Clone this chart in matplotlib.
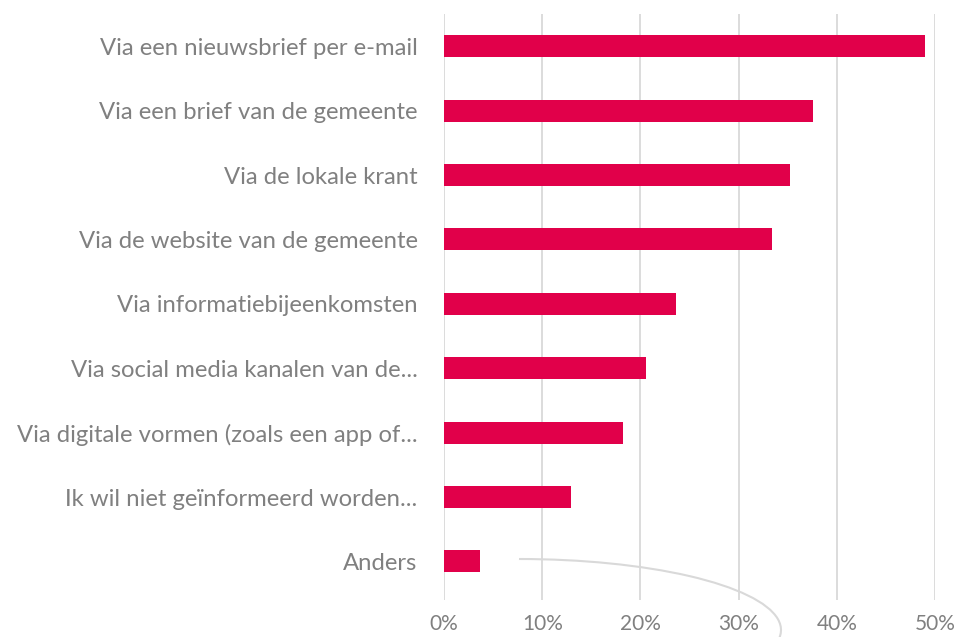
import matplotlib.pyplot as plt
from matplotlib.patches import Arc

# data (percent of respondents)
labels = [
    'Via een nieuwsbrief per e-mail',
    'Via een brief van de gemeente',
    'Via de lokale krant',
    'Via de website van de gemeente',
    'Via informatiebijeenkomsten',
    'Via social media kanalen van de...',
    'Via digitale vormen (zoals een app of...',
    'Ik wil niet geïnformeerd worden...',
    'Anders',
]
values = [49.0, 37.6, 35.2, 33.4, 23.6, 20.6, 18.2, 12.9, 3.7]
xticks = [0, 10, 20, 30, 40, 50]

plt.rcParams['font.family'] = ['Lato', 'DejaVu Sans']

fig = plt.figure(figsize=(9.57, 6.37), dpi=100)
ax = fig.add_axes([0.464, 0.058, 0.513, 0.92])

pos = list(range(len(labels)))[::-1]
ax.barh(pos, values, height=0.34, color='#E1004A', zorder=3)

ax.set_xlim(0, 50)
ax.set_ylim(-0.6, len(labels) - 0.5)
ax.set_xticks(xticks)
ax.set_xticklabels([f'{t}%' for t in xticks])
ax.set_yticks(pos)
ax.set_yticklabels(labels)

ax.grid(axis='x', color='#d9d9d9', linewidth=1.3, zorder=0)
for s in ax.spines.values():
    s.set_visible(False)
ax.tick_params(axis='both', length=0, colors='#808080')
ax.tick_params(axis='y', labelsize=17.2, pad=19)
ax.tick_params(axis='x', labelsize=15, pad=10)

# stray grey curve below the last bar
fig.add_artist(Arc((519, 7), 524, 142, theta1=-40, theta2=90,
                   transform=None, color='#d9d9d9', linewidth=1.5))

fig.savefig('out.png', dpi=100)
